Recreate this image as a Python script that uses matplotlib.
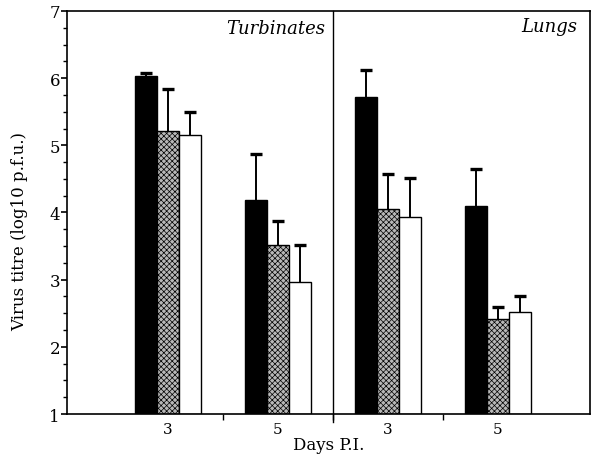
import matplotlib
matplotlib.use("Agg")
import matplotlib.pyplot as plt
import numpy as np

plt.rcParams['font.family'] = ['DejaVu Serif']
plt.rcParams['hatch.linewidth'] = 0.5

# day groups: turbinates day 3, day 5, lungs day 3, day 5
day_labels = ["3", "5", "3", "5"]
panels = ["Turbinates", "Lungs"]

black_vals = [6.03, 4.18, 5.72, 4.10]
black_err = [0.04, 0.69, 0.40, 0.54]
grey_vals = [5.22, 3.52, 4.05, 2.42]
grey_err = [0.62, 0.35, 0.53, 0.18]
white_vals = [5.16, 2.97, 3.93, 2.52]
white_err = [0.33, 0.55, 0.59, 0.23]

pos = np.arange(1, 5)
w = 0.2
base = 1

fig = plt.figure(figsize=(5.96, 4.6), dpi=100)
ax = fig.add_axes([0.1124, 0.0978, 0.8776, 0.8762])

def draw(x, vals, errs, **style):
    vals = np.array(vals)
    tops = vals + np.array(errs)
    ax.bar(x, vals - base, w, bottom=base, edgecolor='black', linewidth=1.0, zorder=2, **style)
    # upper error bars only
    ax.vlines(x, vals, tops, color='black', linewidth=1.4, zorder=3)
    ax.plot(x, tops, linestyle='none', marker='_', markersize=8, markeredgewidth=2.4,
            color='black', zorder=3)

draw(pos - w, black_vals, black_err, color='black')
draw(pos, grey_vals, grey_err, facecolor='#b8b8b8', hatch='xxxxxx')
draw(pos + w, white_vals, white_err, facecolor='white')

ax.axvline(2.5, ymin=-0.02, ymax=1, color='black', linewidth=1.0, clip_on=False)

ax.set_xlim(0.08, 4.84)
ax.set_ylim(1, 7)
ax.set_xticks(pos)
ax.set_xticklabels(day_labels, fontsize=11)
ax.set_xticks([1.5, 2.5, 3.5], minor=True)
ax.tick_params(axis='x', which='major', length=0, pad=6)
ax.tick_params(axis='x', which='minor', length=4, width=1, direction='out')
ax.set_yticks(range(1, 8))
ax.set_yticks(np.arange(1, 7.01, 0.25), minor=True)
ax.tick_params(axis='y', which='major', length=4, width=1.2, direction='out', labelsize=12, pad=1)
ax.tick_params(axis='y', which='minor', length=3, width=1, direction='out')

for s in ax.spines.values():
    s.set_linewidth(1.2)

ax.set_ylabel("Virus titre (log10 p.f.u.)", fontsize=12)
ax.yaxis.set_label_coords(-0.075, 0.455)
ax.set_xlabel("Days P.I.", fontsize=12, labelpad=0)

ax.text(2.43, 6.74, panels[0], style='italic', fontsize=13, ha='right', va='center')
ax.text(4.72, 6.77, panels[1], style='italic', fontsize=13, ha='right', va='center')

fig.savefig("out.png", dpi=100)
